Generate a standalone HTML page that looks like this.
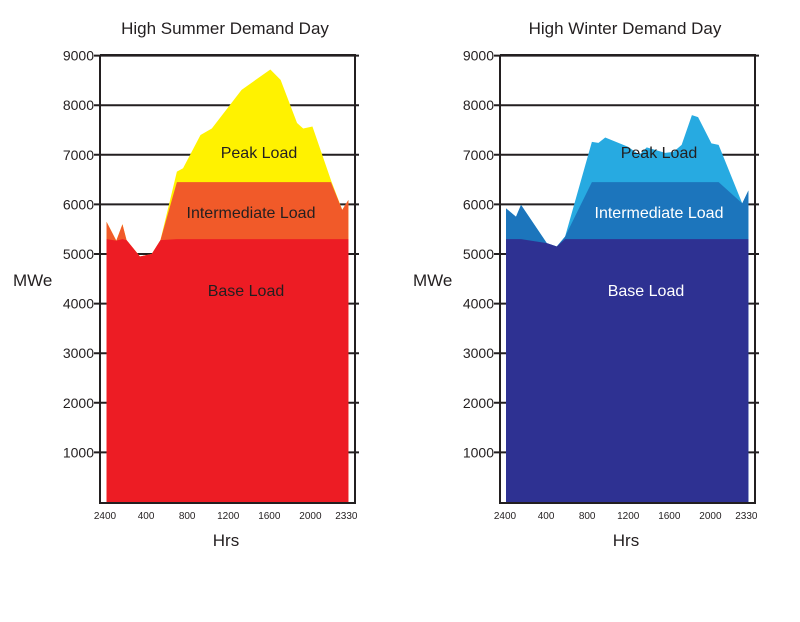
<!DOCTYPE html>
<html><head><meta charset="utf-8"><style>
body{margin:0;background:#fff;}
svg{display:block;font-family:"Liberation Sans",sans-serif;}
</style></head><body>
<svg id="c" width="800" height="622" viewBox="0 0 800 622"></svg>
<script>
const yTicks=[1000,2000,3000,4000,5000,6000,7000,8000,9000];
const xTickLabels=["2400","400","800","1200","1600","2000","2330"];
const xTickHours=[0,4,8,12,16,20,23.5];
const summerHours=[0.15,1.1,1.7,2.1,3.4,4.55,5.4,7.0,7.6,9.3,10.4,13.3,16.1,17.1,18.7,19.3,20.2,22,23.1,23.7];
const summerLoad=[5650,5270,5600,5280,4950,5000,5280,6660,6730,7400,7530,8310,8720,8510,7640,7530,7570,6490,5890,6090];
const winterHours=[0.1,1.07,1.56,4.07,5.04,5.85,8.46,9.1,9.76,12.0,13.1,13.8,15.6,16.4,17.2,18.2,18.8,20.1,20.8,23.1,23.7];
const winterLoad=[5920,5750,5990,5220,5150,5350,7260,7240,7350,7160,7000,7150,7040,7060,7200,7800,7760,7230,7200,6020,6280];
const baseLevel=5300, intermediateLevel=6450;
const NS="http://www.w3.org/2000/svg";
const svg=document.getElementById('c');
function mk(t,a,p){const e=document.createElementNS(NS,t);for(const k in a)e.setAttribute(k,a[k]);(p||svg).appendChild(e);return e;}
function chart(ox,title,hours,load,cols,key){
  const g=mk('g',{});
  
  
  const left=ox+100,right=ox+355,top=55,bottom=503;
  const y=v=>502-v*0.0496;
  const x=h=>ox+105+h*10.27;
  // gridlines
  yTicks.forEach(v=>{const l=mk('line',{x1:left-6,x2:right+4,y1:y(v),y2:y(v),stroke:'#231f20','stroke-width':2},g);
    
    
    const t=mk('text',{x:left-6,y:y(v)+5,'text-anchor':'end','font-size':14,fill:'#231f20'},g);t.textContent=v;
    
    });
  const layer=(cap,col,name)=>{let pts=[[x(hours[0]),y(0)]];
    hours.forEach((h,i)=>pts.push([x(h),y(Math.min(load[i],cap))]));
    pts.push([x(hours[hours.length-1]),y(0)]);
    const p=mk('polygon',{points:pts.map(q=>q.join(',')).join(' '),fill:col},g);
    
    };
  layer(1e9,cols[0],key+'-peak-load-area');
  layer(intermediateLevel,cols[1],key+'-intermediate-load-area');
  layer(baseLevel,cols[2],key+'-base-load-area');
  const fr=mk('polyline',{points:`${left},${top} ${left},${bottom} ${right},${bottom} ${right},${top} ${left},${top}`,fill:'none',stroke:'#231f20','stroke-width':2},g);
  
  
  xTickLabels.forEach((s,i)=>{const t=mk('text',{x:x(xTickHours[i]),y:519,'text-anchor':'middle','font-size':10,fill:'#231f20'},g);t.textContent=s;
    
    });
  const tx=(s,X,Y,sz,fill,name,anchor)=>{const t=mk('text',{x:X,y:Y,'text-anchor':anchor||'middle','font-size':sz,fill},g);t.textContent=s;
    
    };
  tx(title,ox+225,34,17,'#231f20','chart-title');
  tx('MWe',ox+13,286,17,'#231f20','y-axis-title','start');
  tx('Hrs',ox+226,546,17,'#231f20','x-axis-title');
  tx('Peak Load',ox+259,158,16,'#231f20','peak-load-label');
  tx('Intermediate Load',key=='winter'?ox+259:ox+251,218,16,cols[3],'intermediate-load-label');
  tx('Base Load',ox+246,296,16,cols[3],'base-load-label');
}
chart(0,'High Summer Demand Day',summerHours,summerLoad,['#fff200','#f15a29','#ed1c24','#231f20'],'summer');
chart(400,'High Winter Demand Day',winterHours,winterLoad,['#27aae1','#1c75bc','#2e3192','#ffffff'],'winter');
</script>
</body></html>
